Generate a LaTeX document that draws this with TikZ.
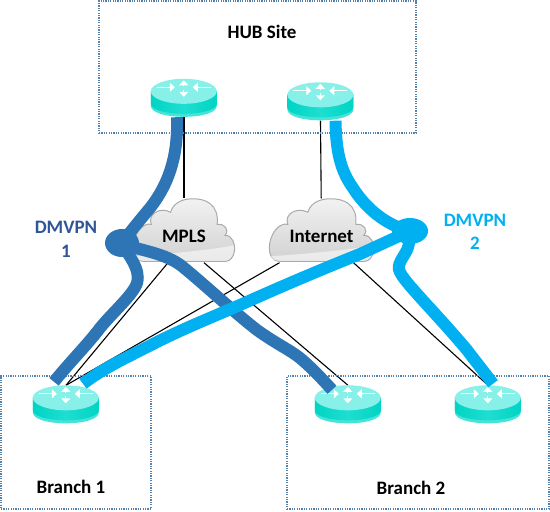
\documentclass[tikz,border=0pt]{standalone}
\usepackage{fontspec}
\setmainfont{Carlito}
\usepackage{tikz}
\usetikzlibrary{arrows.meta, backgrounds, shapes.geometric}
\definecolor{boxblue}{RGB}{84, 130, 175}
\definecolor{vpndark}{RGB}{46, 117, 182}
\definecolor{vpnlight}{RGB}{0, 176, 240}
\definecolor{vpntext}{RGB}{47, 85, 151}
\definecolor{rtrim}{RGB}{70, 228, 216}
\definecolor{rtbody}{RGB}{0, 212, 196}
\definecolor{rtmid}{RGB}{30, 222, 208}
\definecolor{rttop}{RGB}{135, 240, 232}
\definecolor{cloudedge}{RGB}{170, 170, 172}
\newcommand{\routerart}[1]{%
  \begin{scope}[shift={(#1.north west)}]
    \fill[rtrim]
      (0,12) -- (0,27) .. controls (0,34) and (15,38) .. (33,38) .. controls (51,38) and (66,34) .. (66,27) -- (66,12) -- cycle;
    \path[left color=rtbody, right color=rtbody, middle color=rtmid]
      (0,12) -- (0,25) .. controls (0,31) and (15,35) .. (33,35) .. controls (51,35) and (66,31) .. (66,25) -- (66,12) -- cycle;
    \fill[rttop] (33,12.5) ellipse [x radius=33, y radius=12.5];
    \draw[rtarrow] (33,7) -- (33,1.5);
    \draw[rtarrow] (33,11) -- (33,18);
    \draw[rtarrow] (6,8.5) -- (24,8.5);
    \draw[rtarrow] (60,8.5) -- (42,8.5);
  \end{scope}}
\newcommand{\cloudart}[2]{%
  \begin{scope}[shift={(#1.north west)}, xscale=#2]
    \path[draw=cloudedge, line width=1pt, top color=white!95!black, bottom color=black!18]
      (11,63) .. controls (3,63) and (0.5,56) .. (0.5,50) .. controls (0.5,36) and (10,24) .. (19,26)
      .. controls (15,16) and (28,8) .. (39,14) .. controls (42,3) and (54,0.5) .. (61,0.5)
      .. controls (75,0) and (89,6) .. (87,26) .. controls (95,25) and (100,32) .. (95,37)
      .. controls (103,37) and (105.5,46) .. (105,52) .. controls (104,59) and (100,63) .. (96,63) -- cycle;
    \path[fill=white, opacity=0.55]
      (2,58) .. controls (30,56) and (80,52) .. (104,47) .. controls (105,56) and (101,62) .. (96,62.5) -- (11,62.5) .. controls (6,62.5) and (3,61) .. (2,58) -- cycle;
  \end{scope}}

\begin{document}
\begin{tikzpicture}[
  x=1pt, y=-1pt,
  site/.style={draw=boxblue, dash pattern=on 1.2pt off 1.2pt, line width=1.1pt},
  router/.style={minimum width=66pt, minimum height=38pt, inner sep=0pt},
  rtarrow/.style={white, line width=1pt, -{Triangle[width=9pt, length=5pt]}},
  cloudbox/.style={minimum width=#1pt, minimum height=64pt, inner sep=0pt},
  lbl/.style={font=\fontsize{19}{21}\selectfont\bfseries},
  link/.style={black, line width=1.1pt},
  vpn/.style={line width=12pt},
  vpnhub/.style={ellipse, inner sep=0pt}
]
  \useasboundingbox (0,0) rectangle (550,512);

  % Sites
  \node[site, minimum width=317pt, minimum height=132pt] (hub) at (257.5,67) {};
  \node[site, minimum width=150pt, minimum height=133pt] (branchone) at (76,442.5) {};
  \node[site, minimum width=262pt, minimum height=133pt] (branchtwo) at (418,442.5) {};
  \node[lbl] (hubtxt) at (262,32) {HUB Site};
  \node[lbl] (onetxt) at (71,487) {Branch 1};
  \node[lbl] (twotxt) at (411,488) {Branch 2};

  % Routers
  \node[router] (hubA) at (184,98) {};
  \node[router] (hubB) at (320.5,101.5) {};
  \node[router] (brA) at (66,404.5) {};
  \node[router] (brB) at (348,404.5) {};
  \node[router] (brC) at (488,404.5) {};

  % Clouds
  \node[cloudbox=102] (mpls) at (184,230.5) {};
  \node[cloudbox=105] (inet) at (321.5,230.5) {};
  \node[lbl] (mplstxt) at ([yshift=-6pt]mpls) {MPLS};
  \node[lbl] (inettxt) at ([yshift=-6pt]inet) {Internet};

  \begin{scope}[on background layer]
    % Physical links
    \draw[link] (hubA.south) -- (mpls);
    \draw[link] (hubB.south) -- (inet);
    \draw[link] (brA.north) -- ([xshift=-16pt]mpls.south);
    \draw[link] (brB.north) -- ([xshift=20pt]mpls.south);
    \draw[link] (brA.north) -- ([xshift=-42pt]inet.south);
    \draw[link] (brC.north) -- ([xshift=32pt]inet.south);
    % Device art
    \foreach \r in {hubA, hubB, brA, brB, brC} {\routerart{\r}}
    \cloudart{mpls}{0.97}
    \cloudart{inet}{1}
  \end{scope}

  % DMVPN hubs
  \node[vpnhub, fill=vpndark, minimum width=34pt, minimum height=28pt] (dmA) at (122,243) {};
  \node[vpnhub, fill=vpnlight, minimum width=36pt, minimum height=26pt] (dmB) at (410,231) {};

  % DMVPN 1
  \draw[vpn, vpndark] ([xshift=-7pt]hubA.south) .. controls (178,150) and (172,180) .. (150,208) .. controls (140,220) and (130,232) .. (dmA.center);
  \draw[vpn, vpndark] (dmA.center) .. controls (128,256) and (141,268) .. (137,283) .. controls (133,295) and (113,312) .. (100,328) .. controls (88,344) and (70,362) .. ([xshift=-12pt,yshift=3.5pt]brA.north);
  \draw[vpn, vpndark] (dmA.center) .. controls (135,250) and (165,252) .. (183,267) .. controls (205,285) and (235,313) .. (257,330) .. controls (275,343) and (290,350) .. (300,358) .. controls (313,369) and (323,380) .. ([xshift=-16pt,yshift=-4.5pt]brB.north);

  % DMVPN 2
  \draw[vpn, vpnlight] ([xshift=15pt]hubB.south) .. controls (336,150) and (340,170) .. (353,188) .. controls (365,207) and (385,225) .. (dmB.center);
  \draw[vpn, vpnlight] (dmB.center) -- (360,254) .. controls (320,270) and (280,287) .. (240,305) .. controls (210,318) and (185,328) .. (157,342) .. controls (130,356) and (105,367) .. ([xshift=17pt,yshift=1.5pt]brA.north);
  \draw[vpn, vpnlight] (dmB.center) .. controls (410,240) and (409,245) .. (407,250) .. controls (403,258) and (396,265) .. (400,272) .. controls (404,282) and (435,312) .. (467,350) .. controls (476,362) and (485,373) .. ([xshift=5pt,yshift=1.5pt]brC.north);

  % Labels
  \node[lbl, text=vpntext] (dmAtxt) at (66,227) {DMVPN};
  \node[lbl, text=vpntext] (dmAnum) at (66,251) {1};
  \node[lbl, text=vpnlight] (dmBtxt) at (475,220) {DMVPN};
  \node[lbl, text=vpnlight] (dmBnum) at (475,243) {2};
\end{tikzpicture}
\end{document}
